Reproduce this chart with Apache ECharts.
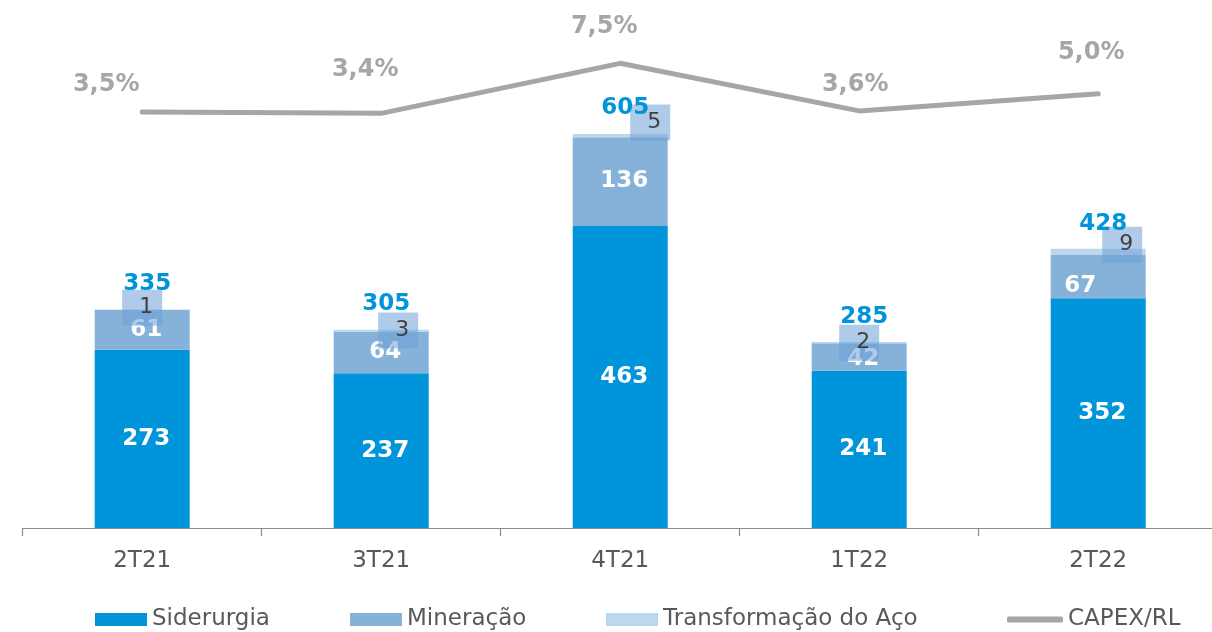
<!DOCTYPE html>
<html>
<head>
<meta charset="utf-8">
<script src="https://cdn.jsdelivr.net/npm/echarts@6/dist/echarts.min.js"></script>
<style>
html,body{margin:0;padding:0;background:#fff;overflow:hidden;}
#chart{width:1220px;height:632px;}
</style>
</head>
<body>
<div id="chart"></div>
<script>
// ---- data ----
const categories = ['2T21', '3T21', '4T21', '1T22', '2T22'];
const siderurgia = [273, 237, 463, 241, 352];
const mineracao = [61, 64, 136, 42, 67];
const transformacao = [1, 3, 5, 2, 9];
const totals = [335, 305, 605, 285, 428];
const capexRL = [3.5, 3.4, 7.5, 3.6, 5.0];

// ---- layout (label offsets, px) ----
const mineracaoLabelOffsets = [[4, 0], [4, 0], [4, 0], [4, 2], [-18, 10]];
const boxLabelOffsets = [[0, -2], [17, 0], [30, -13], [0, 0], [24, -7]];
const capexLabelOffsets = [[-36, -27], [-16, -44], [-16, -37], [-4, -26], [-7, -41]];

const FONT = 'DejaVu Sans';
const C_SID = '#0095DA';
const C_MIN = '#86B2DA';
const C_TRA = '#BDD7EE';
const C_LINE = '#A6A6A6';
const C_TXT = '#595959';

const fmtPct = v => v.toFixed(1).replace('.', ',') + '%';

const chart = echarts.init(document.getElementById('chart'), null, {renderer: 'canvas'});

const legendBase = {
  orient: 'horizontal',
  top: 603,
  itemWidth: 52,
  itemHeight: 13,
  icon: 'rect',
  textStyle: {fontFamily: FONT, fontSize: 23, color: C_TXT},
  selectedMode: false
};

const boxLabel = {
  show: true, position: 'inside', color: '#404040',
  fontFamily: FONT, fontWeight: 'normal', fontSize: 22,
  backgroundColor: 'rgba(110,160,215,0.55)',
  width: 32, height: 36, lineHeight: 36, padding: [0, 0, 0, 8],
  align: 'center', verticalAlign: 'middle'
};

const option = {
  animation: false,
  backgroundColor: '#fff',
  grid: {left: 22.7, right: 2.3, top: 6, bottom: 104, containLabel: false},
  legend: [
    Object.assign({}, legendBase, {left: 90, data: ['Siderurgia']}),
    Object.assign({}, legendBase, {left: 345, data: ['Mineração']}),
    Object.assign({}, legendBase, {left: 601, data: ['Transformação do Aço']}),
    Object.assign({}, legendBase, {left: 1002, itemWidth: 56, itemHeight: 6, icon: 'roundRect', data: ['CAPEX/RL']})
  ],
  xAxis: {
    type: 'category',
    data: categories,
    axisLine: {lineStyle: {color: '#8C8C8C', width: 1.2}},
    axisTick: {show: true, length: 8, lineStyle: {color: '#8C8C8C', width: 1.2}},
    axisLabel: {fontFamily: FONT, fontSize: 23, color: C_TXT, margin: 22}
  },
  yAxis: [
    {type: 'value', min: 0, max: 800, show: false, splitLine: {show: false}},
    {type: 'value', min: -30.6, max: 12.2, show: false, splitLine: {show: false}}
  ],
  series: [
    {
      name: 'Siderurgia', type: 'bar', stack: 'capex', barWidth: 95,
      itemStyle: {color: C_SID},
      label: {show: true, position: 'inside', offset: [4, 0], color: '#fff',
              fontFamily: FONT, fontWeight: 'bold', fontSize: 23},
      data: siderurgia
    },
    {
      name: 'Mineração', type: 'bar', stack: 'capex', barWidth: 95,
      itemStyle: {color: C_MIN},
      label: {show: true, position: 'inside', color: '#fff',
              fontFamily: FONT, fontWeight: 'bold', fontSize: 23},
      data: mineracao.map((v, i) => ({value: v, label: {offset: mineracaoLabelOffsets[i]}}))
    },
    {
      name: 'Transformação do Aço', type: 'bar', stack: 'capex', barWidth: 95,
      itemStyle: {color: C_TRA},
      z: 3,
      label: boxLabel,
      data: transformacao.map((v, i) => ({value: v, label: Object.assign({}, boxLabel, {offset: boxLabelOffsets[i]})}))
    },
    {
      name: 'Total', type: 'scatter', yAxisIndex: 0, symbolSize: 1, silent: true,
      itemStyle: {color: 'rgba(0,0,0,0)', opacity: 1},
      z: 5,
      label: {show: true, position: 'inside', offset: [5, -25], color: C_SID,
              fontFamily: FONT, fontWeight: 'bold', fontSize: 23},
      data: totals
    },
    {
      name: 'CAPEX/RL', type: 'line', yAxisIndex: 1,
      symbol: 'circle', symbolSize: 1, showSymbol: true,
      itemStyle: {color: C_LINE},
      lineStyle: {color: C_LINE, width: 5, cap: 'round', join: 'round'},
      label: {show: true, position: 'inside', color: C_LINE,
              fontFamily: FONT, fontWeight: 'bold', fontSize: 24,
              formatter: p => fmtPct(p.value)},
      data: capexRL.map((v, i) => ({value: v, label: {offset: capexLabelOffsets[i]}}))
    }
  ]
};

chart.setOption(option);
</script>
</body>
</html>
